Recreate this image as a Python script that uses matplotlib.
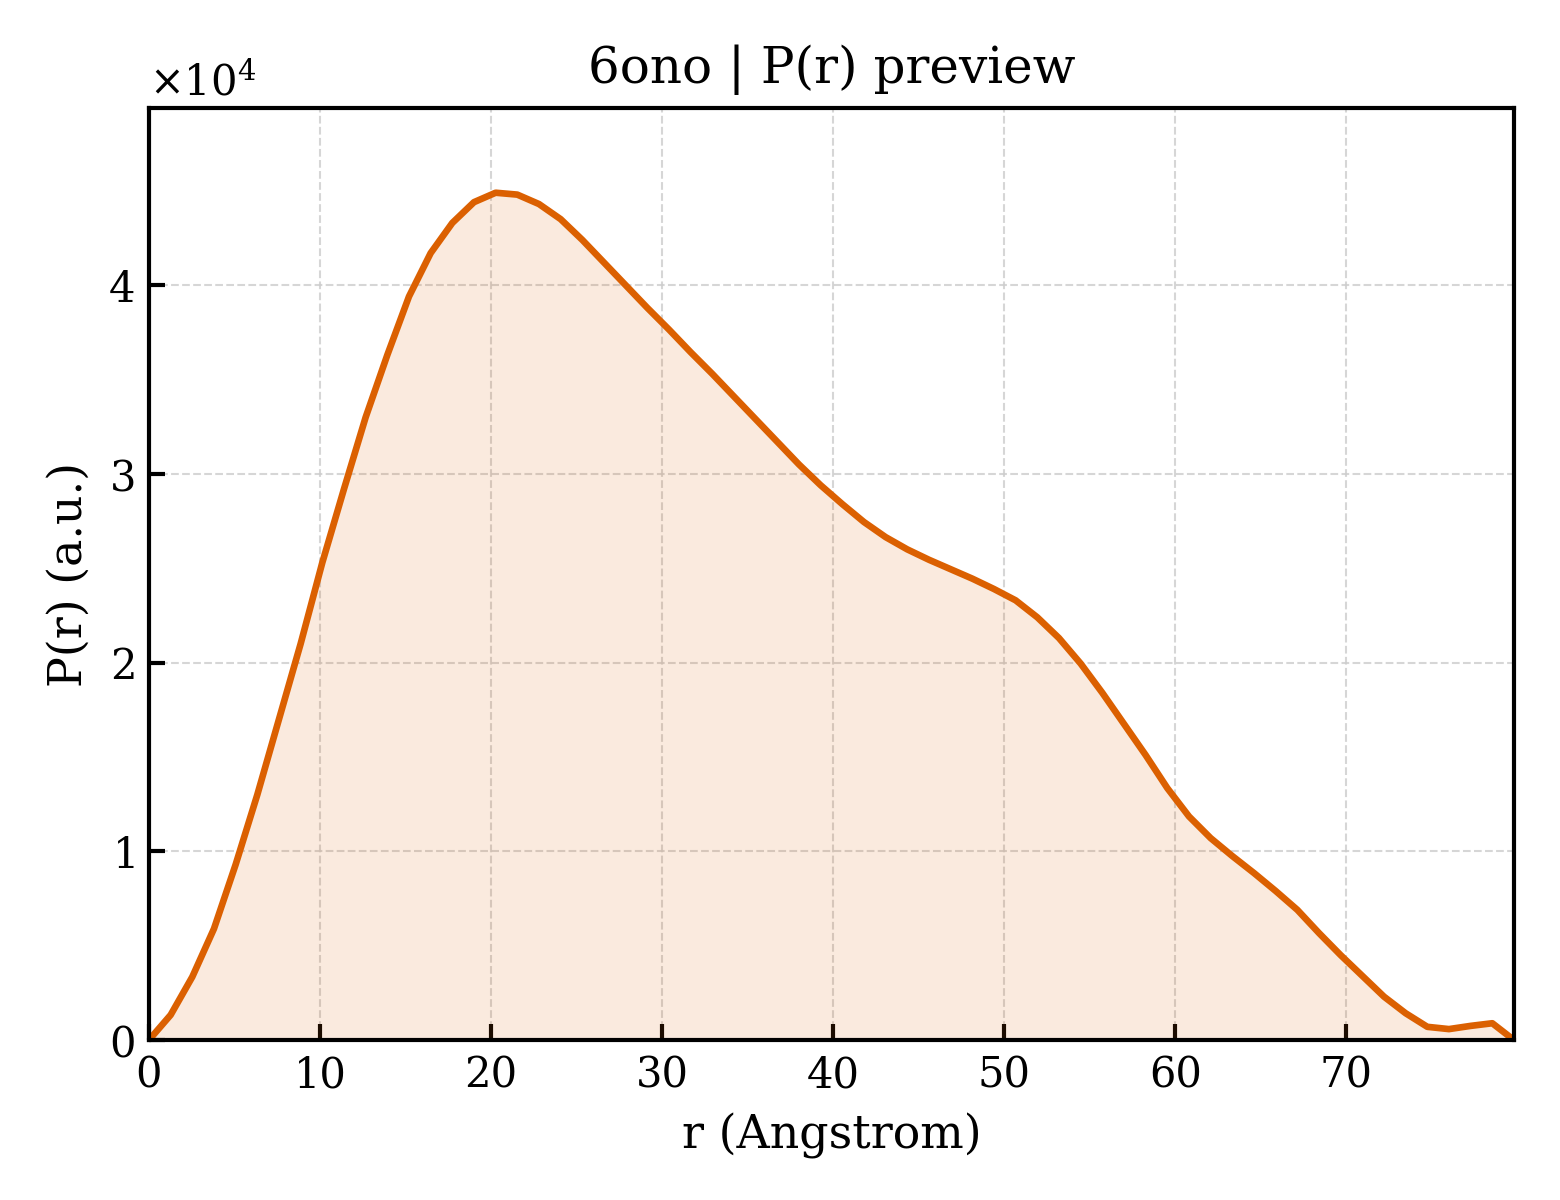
import numpy as np
import matplotlib
matplotlib.use("Agg")
import matplotlib.pyplot as plt

# P(r) samples (r in Angstrom, P in units of 1e4)
dmax = 79.8
n_points = 64
pr = [0.0, 0.133, 0.335, 0.59, 0.93, 1.30, 1.70, 2.10, 2.53, 2.92,
      3.30, 3.63, 3.94, 4.17, 4.33, 4.44, 4.49, 4.48, 4.43, 4.35,
      4.24, 4.12, 4.00, 3.88, 3.765, 3.645, 3.53, 3.41, 3.29, 3.17,
      3.05, 2.94, 2.84, 2.745, 2.665, 2.60, 2.545, 2.495, 2.445, 2.39,
      2.33, 2.24, 2.13, 1.995, 1.84, 1.675, 1.51, 1.335, 1.185, 1.07,
      0.975, 0.885, 0.79, 0.69, 0.567, 0.45, 0.34, 0.23, 0.142, 0.07,
      0.058, 0.075, 0.089, 0.0]
xticks = [0, 10, 20, 30, 40, 50, 60, 70]
yticks = [0, 1e4, 2e4, 3e4, 4e4]

r = np.linspace(0, dmax, n_points)
p = np.array(pr) * 1e4

plt.rcParams['font.family'] = ['DejaVu Serif']
plt.rcParams['mathtext.fontset'] = 'dejavuserif'

fig, ax = plt.subplots(figsize=(5.2, 4.0), dpi=300)
fig.subplots_adjust(left=0.0955, right=0.9705, top=0.91, bottom=0.1333)

color = '#DB6001'
ax.fill_between(r, p, 0, color=color, alpha=0.13, linewidth=0)
ax.plot(r, p, color=color, linewidth=1.6)

ax.set_xlim(0, dmax)
ax.set_ylim(0, p.max() * 1.1)
ax.set_xticks(xticks)
ax.set_yticks(yticks)
ax.ticklabel_format(axis='y', style='sci', scilimits=(0, 0), useMathText=True)
ax.yaxis.get_offset_text().set_fontsize(10)

for side in ax.spines.values():
    side.set_linewidth(1.0)
ax.tick_params(direction='in', length=3.8, width=1.0, labelsize=10)
ax.grid(True, linestyle='--', linewidth=0.5, color='#cccccc', alpha=0.8)
ax.set_axisbelow(True)

ax.set_xlabel('r (Angstrom)', fontsize=11)
ax.set_ylabel('P(r) (a.u.)', fontsize=11)
ax.set_title('6ono | P(r) preview', fontsize=12)

fig.savefig('out.png', dpi=300)
